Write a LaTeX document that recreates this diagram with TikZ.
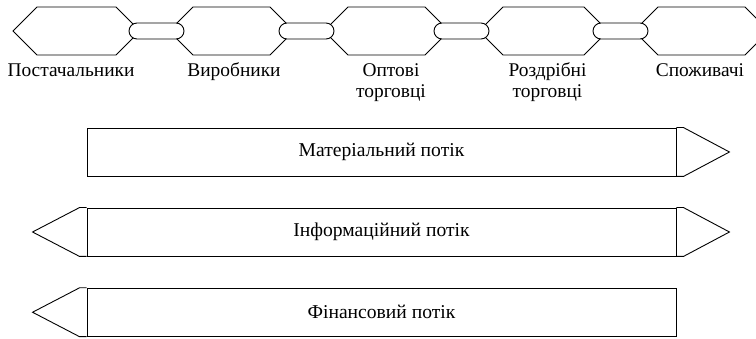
\documentclass[tikz,border=0pt]{standalone}
\usepackage{fontspec}
\setmainfont{Liberation Serif}
\newfontfamily\labfont{Liberation Serif}
\usetikzlibrary{calc}
\begin{document}
\begin{tikzpicture}[x=1pt,y=1pt,
  line width=0.9pt, line join=miter,
  hexa/.style={draw=black},
  linkbox/.style={draw=black, fill=white, rounded corners=8pt, minimum width=55pt, minimum height=16pt, inner sep=0pt},
  lab/.style={align=center, font=\labfont\fontsize{19.4}{21}\selectfont, inner sep=0pt, anchor=base},
  flowbox/.style={draw=black, minimum width=589pt, minimum height=48pt, inner sep=0pt, font=\labfont\fontsize{19.6}{21}\selectfont},
  tip/.style={draw=black}]
\useasboundingbox (0,0) rectangle (756,-339);
% hexagons
\foreach \a/\b [count=\i] in {37/116,193/270,348/425,503/584,658/745}{
  \draw[hexa] (\a-24,-31) -- (\a,-7) -- (\b,-7) -- (\b+24,-31) -- (\b,-55) -- (\a,-55) -- cycle;
  \coordinate (h\i) at ({(\a+\b)/2},-31);
}
% links
\node[linkbox] (l1) at (156.5,-31) {};
\node[linkbox] (l2) at (306.5,-31) {};
\node[linkbox] (l3) at (461.5,-31) {};
\node[linkbox] (l4) at (620.5,-31) {};
% labels
\node[lab] (t1) at (71,-77) {Постачальники};
\node[lab] (t2) at (234,-77) {Виробники};
\node[lab] (t3) at (391,-97.5) {Оптові\\торговці};
\node[lab] (t4) at (547.5,-97.5) {Роздрібні\\торговці};
\node[lab] (t5) at (700,-77) {Споживачі};
% flows
\node[flowbox] (mat) at (381.5,-152) {Матеріальний потік};
\node[flowbox] (inf) at (381.5,-232) {Інформаційний потік};
\node[flowbox] (fin) at (381.5,-312.25) {Фінансовий потік};
% tips
\draw[tip] (mat.north east) -- ++(7,0) -- ($(mat.east)+(53,0)$) -- ($(mat.south east)+(7,0)$) -- (mat.south east);
\draw[tip] (inf.north east) -- ++(7,0) -- ($(inf.east)+(53,0)$) -- ($(inf.south east)+(7,0)$) -- (inf.south east);
\draw[tip] (inf.north west) -- ++(-7,0) -- ($(inf.west)+(-54,0)$) -- ($(inf.south west)+(-7,0)$) -- (inf.south west);
\draw[tip] (fin.north west) -- ++(-7,0) -- ($(fin.west)+(-54,0)$) -- ($(fin.south west)+(-7,0)$) -- (fin.south west);
\end{tikzpicture}
\end{document}
